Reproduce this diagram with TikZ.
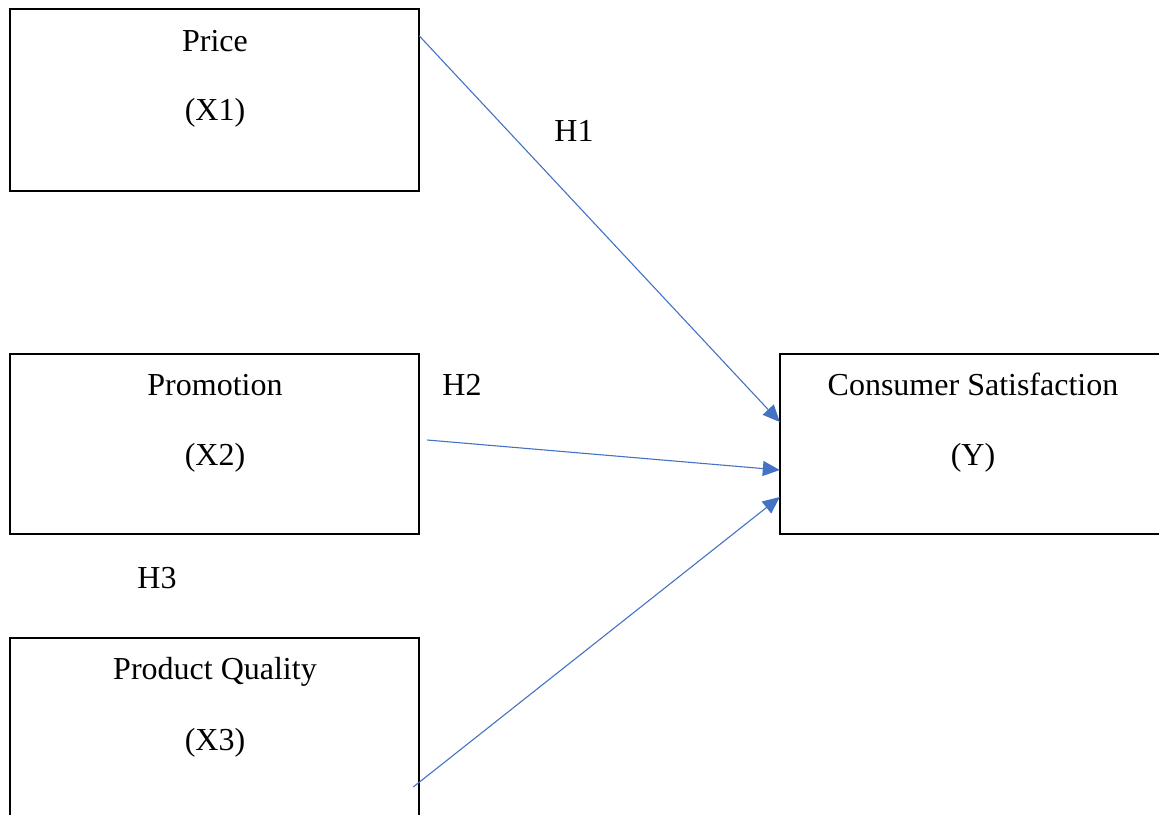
\documentclass[tikz,border=0pt]{standalone}
\usepackage{fontspec}
\setmainfont{Liberation Serif}
\usetikzlibrary{arrows.meta,calc}
\definecolor{arrowblue}{RGB}{68,114,196}
\tikzset{
  box/.style={draw=black,line width=1.4pt,inner sep=0pt},
  lbl/.style={anchor=base,inner sep=0pt,font=\fontsize{32}{38}\selectfont},
  hyp/.style={anchor=base,inner sep=0pt,font=\fontsize{32}{38}\selectfont},
  link/.style={draw=arrowblue,line width=1.1pt,-{Triangle[length=17pt,width=15pt]}}
}
\begin{document}
\begin{tikzpicture}[x=1pt,y=-1pt]
\clip (0,0) rectangle (1159,814);
% boxes
\draw[box] (10,9) rectangle (419,191);
\node[inner sep=0pt,minimum width=409pt,minimum height=182pt] (price) at (214.5,100) {};
\draw[box] (10,354) rectangle (419,534);
\node[inner sep=0pt,minimum width=409pt,minimum height=180pt] (promo) at (214.5,444) {};
\draw[box] (10,638) rectangle (419,840);
\node[inner sep=0pt,minimum width=409pt,minimum height=202pt] (qual) at (214.5,739) {};
\draw[box] (780,354) rectangle (1180,534);
\node[inner sep=0pt,minimum width=400pt,minimum height=180pt] (cs) at (980,444) {};
% texts
\node[lbl] (t1) at (215,51) {Price};
\node[lbl] (t1b) at (215,120) {(X1)};
\node[lbl] (t2) at (215,395) {Promotion};
\node[lbl] (t2b) at (215,465) {(X2)};
\node[lbl] (t3) at (215,679) {Product Quality};
\node[lbl] (t3b) at (215,750) {(X3)};
\node[lbl] (t4) at (973,395) {Consumer Satisfaction};
\node[lbl] (t4b) at (973,465) {(Y)};
\node[hyp] (h1) at (574,141) {H1};
\node[hyp] (h2) at (462,395) {H2};
\node[hyp] (h3) at (157,588) {H3};
% connector endpoints
\coordinate (s1) at ($(price.north east)+(0,27)$);
\coordinate (s2) at ($(promo.east)+(8,-4)$);
\coordinate (s3) at ($(qual.east)+(-6,48)$);
\coordinate (e1) at ($(cs.west)+(0,-22)$);
\coordinate (e2) at ($(cs.west)+(0,26)$);
\coordinate (e3) at ($(cs.west)+(0,53)$);
\draw[link] (s1) -- (e1);
\draw[link] (s2) -- (e2);
\draw[link] (s3) -- (e3);
\end{tikzpicture}
\end{document}
